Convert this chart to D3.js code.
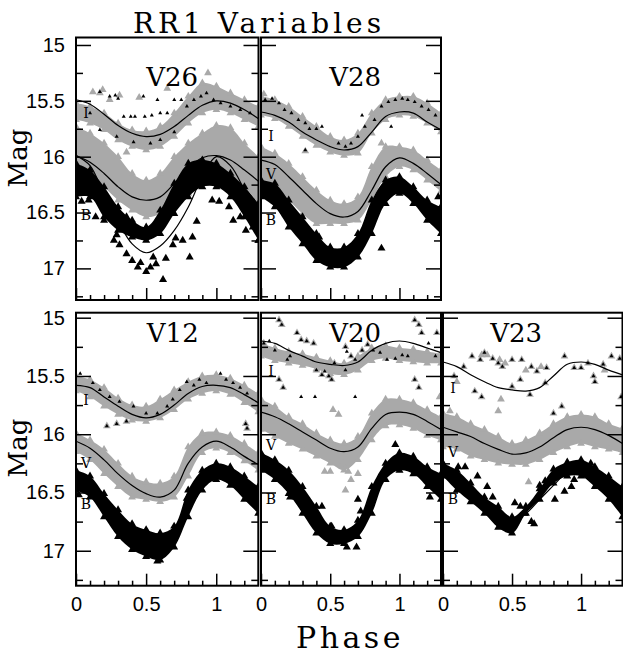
<!DOCTYPE html>
<html>
<head>
<meta charset="utf-8">
<script src="https://cdn.jsdelivr.net/npm/d3@7"></script>
<style>
  body { margin: 0; background: #fff; }
  svg { display: block; }
</style>
</head>
<body>
<script>
// fasi comuni per curve e bande (passo 0.1)
const fasi = [0, 0.1, 0.2, 0.3, 0.4, 0.5, 0.6, 0.7, 0.8, 0.9, 1.0, 1.1, 1.2, 1.3];

// tick degli assi
const tickMagMaggiori = [15, 15.5, 16, 16.5, 17];
const tickMagMinori = [15.25, 15.75, 16.25, 16.75, 17.25];
const tickFaseMaggiori = [0, 0.5, 1];
const tickFaseMinori = [0.1, 0.2, 0.3, 0.4, 0.6, 0.7, 0.8, 0.9, 1.1, 1.2];

// ---------------- V26 ----------------
const v26CurvaI = [15.49, 15.53, 15.62, 15.72, 15.79, 15.82, 15.80, 15.73, 15.63, 15.54, 15.50, 15.52, 15.58, 15.66];
const v26CurvaV = [15.99, 16.05, 16.15, 16.27, 16.36, 16.39, 16.36, 16.24, 16.10, 16.01, 15.99, 16.03, 16.12, 16.22];
const v26CurvaB = [15.99, 16.08, 16.34, 16.58, 16.78, 16.86, 16.80, 16.66, 16.45, 16.18, 16.00, 16.08, 16.30, 16.55];
const v26BandaIsu = [15.52, 15.55, 15.61, 15.70, 15.76, 15.77, 15.73, 15.61, 15.46, 15.34, 15.37, 15.43, 15.49, 15.55];
const v26BandaIgiu = [15.67, 15.70, 15.76, 15.85, 15.91, 15.94, 15.91, 15.82, 15.70, 15.61, 15.58, 15.61, 15.67, 15.73];
const v26BandaVsu = [15.73, 15.79, 15.88, 16.00, 16.15, 16.21, 16.15, 16.00, 15.88, 15.79, 15.72, 15.74, 15.88, 16.00];
const v26BandaVgiu = [16.05, 16.15, 16.27, 16.39, 16.48, 16.54, 16.51, 16.42, 16.33, 16.21, 16.15, 16.18, 16.27, 16.42];
const v26BandaBsu = [16.06, 16.12, 16.27, 16.45, 16.57, 16.63, 16.48, 16.24, 16.06, 16.03, 16.06, 16.15, 16.27, 16.42];
const v26BandaBgiu = [16.36, 16.36, 16.54, 16.66, 16.72, 16.75, 16.69, 16.51, 16.36, 16.27, 16.27, 16.36, 16.54, 16.75];
const v26PuntiGrigi = [[0.12, 15.42], [0.24, 15.49], [0.31, 15.45], [0.65, 15.39], [0.94, 15.25], [0.36, 15.96], [0.0, 15.76], [0.19, 15.40], [0.45, 15.47], [0.17, 15.43]];
const v26PuntiNeri = [[0.04, 16.40], [0.09, 16.39], [0.14, 16.54], [0.20, 16.57], [0.27, 16.75], [0.31, 16.79], [0.36, 16.87], [0.40, 16.93], [0.46, 16.95], [0.50, 17.03], [0.53, 16.99], [0.57, 16.96], [0.62, 17.10], [0.64, 16.91], [0.69, 16.79], [0.71, 16.73], [0.76, 16.75], [0.81, 16.90], [0.83, 16.72], [0.86, 16.58], [0.97, 16.39], [1.02, 16.40], [1.09, 16.45], [1.12, 16.57], [1.17, 16.54], [1.21, 16.66], [1.26, 16.63], [1.30, 16.75], [0.36, 16.54], [0.29, 16.70], [0.44, 16.99], [0.55, 16.90]];
const v26PuntiniI = [[0.10, 15.61], [0.17, 15.42], [0.24, 15.46], [0.28, 15.45], [0.30, 15.48], [0.34, 15.64], [0.39, 15.64], [0.42, 15.64], [0.48, 15.46], [0.49, 15.64], [0.54, 15.63], [0.58, 15.49], [0.60, 15.61], [0.65, 15.61], [0.70, 15.49], [0.75, 15.49], [0.79, 15.55], [0.84, 15.49], [0.89, 15.46], [0.93, 15.43], [0.98, 15.49], [1.03, 15.52], [1.10, 15.55], [1.17, 15.58], [1.24, 15.61], [0.17, 15.76], [0.29, 15.82], [0.41, 15.87], [0.53, 15.88], [0.60, 15.85], [0.70, 15.78]];

// ---------------- V28 ----------------
const v28CurvaI = [15.60, 15.63, 15.69, 15.78, 15.85, 15.91, 15.94, 15.91, 15.78, 15.64, 15.60, 15.61, 15.69, 15.76];
const v28CurvaV = [16.03, 16.07, 16.18, 16.30, 16.42, 16.51, 16.54, 16.49, 16.30, 16.09, 16.01, 16.06, 16.15, 16.25];
const v28CurvaB = [16.27, 16.33, 16.50, 16.66, 16.80, 16.90, 16.92, 16.80, 16.52, 16.30, 16.24, 16.33, 16.48, 16.58];
const v28BandaIsu = [15.46, 15.49, 15.55, 15.64, 15.73, 15.82, 15.85, 15.79, 15.61, 15.49, 15.46, 15.46, 15.52, 15.61];
const v28BandaIgiu = [15.63, 15.66, 15.73, 15.82, 15.90, 15.96, 15.99, 15.97, 15.79, 15.67, 15.63, 15.64, 15.70, 15.78];
const v28BandaVsu = [15.91, 15.97, 16.06, 16.18, 16.30, 16.39, 16.42, 16.36, 16.09, 15.91, 15.91, 15.94, 16.03, 16.12];
const v28BandaVgiu = [16.27, 16.30, 16.39, 16.51, 16.60, 16.60, 16.60, 16.57, 16.39, 16.18, 16.09, 16.12, 16.21, 16.31];
const v28BandaBsu = [16.21, 16.24, 16.39, 16.54, 16.69, 16.81, 16.81, 16.69, 16.39, 16.21, 16.18, 16.27, 16.39, 16.45];
const v28BandaBgiu = [16.36, 16.45, 16.63, 16.78, 16.93, 16.99, 16.99, 16.90, 16.69, 16.42, 16.33, 16.42, 16.57, 16.69];
const v28PuntiGrigi = [[0.32, 15.95], [0.02, 15.44], [0.87, 15.88], [0.95, 15.62]];
const v28PuntiNeri = [[0.87, 16.82], [0.30, 16.62], [1.28, 16.36], [0.42, 16.72]];
const v28PuntiniI = [[0.03, 15.49], [0.08, 15.48], [0.13, 15.52], [0.17, 15.58], [0.22, 15.61], [0.27, 15.67], [0.32, 15.70], [0.35, 15.75], [0.40, 15.75], [0.44, 15.73], [0.56, 15.88], [0.61, 15.91], [0.65, 15.88], [0.70, 15.82], [0.75, 15.73], [0.82, 15.67], [0.87, 15.55], [0.92, 15.51], [0.97, 15.49], [1.02, 15.48], [1.06, 15.49], [1.11, 15.51], [1.16, 15.55], [1.21, 15.58], [1.26, 15.63], [0.32, 15.94], [0.73, 15.63], [0.94, 15.73]];

// ---------------- V12 ----------------
const v12CurvaI = [15.58, 15.60, 15.68, 15.76, 15.83, 15.86, 15.83, 15.75, 15.65, 15.59, 15.58, 15.60, 15.66, 15.73];
const v12CurvaV = [16.06, 16.12, 16.22, 16.34, 16.44, 16.51, 16.54, 16.48, 16.25, 16.11, 16.06, 16.11, 16.19, 16.26];
const v12CurvaB = [16.41, 16.48, 16.62, 16.77, 16.88, 16.94, 16.95, 16.91, 16.62, 16.38, 16.31, 16.32, 16.41, 16.56];
const v12BandaIsu = [15.50, 15.53, 15.60, 15.69, 15.75, 15.76, 15.70, 15.62, 15.55, 15.50, 15.49, 15.52, 15.58, 15.65];
const v12BandaIgiu = [15.63, 15.68, 15.76, 15.83, 15.88, 15.89, 15.86, 15.79, 15.70, 15.65, 15.63, 15.66, 15.73, 15.81];
const v12BandaVsu = [15.99, 16.05, 16.13, 16.25, 16.36, 16.41, 16.42, 16.36, 16.11, 15.99, 15.98, 16.01, 16.08, 16.16];
const v12BandaVgiu = [16.15, 16.22, 16.34, 16.45, 16.54, 16.56, 16.58, 16.54, 16.36, 16.16, 16.12, 16.16, 16.23, 16.31];
const v12BandaBsu = [16.31, 16.36, 16.51, 16.65, 16.77, 16.82, 16.85, 16.79, 16.48, 16.31, 16.25, 16.28, 16.36, 16.45];
const v12BandaBgiu = [16.48, 16.54, 16.71, 16.88, 16.99, 17.05, 17.08, 16.97, 16.71, 16.48, 16.39, 16.44, 16.56, 16.68];
const v12PuntiGrigi = [[0.22, 15.93], [0.29, 15.91], [0.36, 15.89], [1.21, 15.91], [1.22, 15.95], [0.48, 16.47], [0.52, 16.46]];
const v12PuntiNeri = [[0.79, 16.55], [0.02, 16.52], [0.58, 17.09]];
const v12PuntiniI = [[0.03, 15.48], [0.12, 15.56], [0.17, 15.62], [0.22, 15.93], [0.29, 15.91], [0.36, 15.89], [0.24, 15.68], [0.31, 15.72], [0.41, 15.76], [0.50, 15.82], [0.58, 15.82], [0.65, 15.76], [0.69, 15.70], [0.74, 15.62], [0.79, 15.55], [0.84, 15.58], [0.88, 15.53], [0.93, 15.56], [1.03, 15.48], [1.07, 15.53], [1.12, 15.56], [1.17, 15.60], [1.22, 15.65], [1.21, 15.91], [1.22, 15.95]];

// ---------------- V20 ----------------
const v20CurvaI = [15.20, 15.22, 15.28, 15.33, 15.38, 15.40, 15.41, 15.38, 15.28, 15.22, 15.20, 15.22, 15.26, 15.30];
const v20CurvaV = [15.81, 15.85, 15.91, 15.98, 16.05, 16.12, 16.15, 16.11, 15.95, 15.83, 15.81, 15.83, 15.89, 15.96];
const v20CurvaB = [16.18, 16.28, 16.39, 16.54, 16.71, 16.85, 16.88, 16.79, 16.54, 16.28, 16.19, 16.22, 16.31, 16.39];
const v20BandaIsu = [15.22, 15.26, 15.29, 15.31, 15.34, 15.37, 15.39, 15.33, 15.26, 15.24, 15.26, 15.27, 15.29, 15.31];
const v20BandaIgiu = [15.33, 15.37, 15.39, 15.41, 15.44, 15.48, 15.49, 15.45, 15.37, 15.35, 15.37, 15.38, 15.39, 15.39];
const v20BandaVsu = [15.70, 15.76, 15.85, 15.91, 15.99, 16.05, 16.08, 16.02, 15.82, 15.70, 15.70, 15.73, 15.79, 15.85];
const v20BandaVgiu = [15.96, 16.02, 16.08, 16.13, 16.19, 16.25, 16.31, 16.22, 16.05, 15.93, 15.92, 15.95, 16.01, 16.05];
const v20BandaBsu = [16.16, 16.22, 16.31, 16.45, 16.62, 16.79, 16.82, 16.74, 16.45, 16.25, 16.16, 16.19, 16.28, 16.34];
const v20BandaBgiu = [16.31, 16.39, 16.51, 16.68, 16.85, 16.94, 16.94, 16.88, 16.68, 16.39, 16.31, 16.34, 16.45, 16.56];
const v20PuntiGrigi = [[0.46, 16.32], [0.50, 16.32], [0.59, 16.25], [0.63, 16.32], [0.65, 16.39], [0.61, 16.48], [0.70, 16.34], [0.52, 15.79], [0.56, 15.83], [1.29, 15.68], [0.02, 15.22], [0.13, 15.02], [0.15, 15.06], [0.26, 15.13], [0.29, 15.19], [0.33, 15.20], [0.38, 15.22], [0.40, 15.45], [0.44, 15.49], [0.49, 15.50], [0.53, 15.39], [0.61, 15.25], [0.65, 15.33], [0.73, 15.28], [0.77, 15.23], [1.11, 15.02], [1.14, 15.06], [1.16, 15.13], [1.27, 15.13], [0.13, 15.53], [0.16, 15.60], [1.11, 15.53], [1.14, 15.60], [0.61, 15.45], [0.51, 15.53]];
const v20PuntiNeri = [[0.21, 16.54], [0.25, 16.54], [0.70, 16.56], [0.97, 16.09], [1.22, 16.54], [0.62, 16.97], [0.69, 16.97], [0.51, 16.79], [0.44, 16.62], [0.72, 16.66]];
const v20PuntiniI = [[0.02, 15.22], [0.06, 15.20], [0.10, 15.28], [0.13, 15.02], [0.15, 15.06], [0.19, 15.36], [0.21, 15.33], [0.26, 15.13], [0.29, 15.19], [0.33, 15.20], [0.38, 15.22], [0.40, 15.45], [0.44, 15.49], [0.46, 15.46], [0.49, 15.50], [0.53, 15.39], [0.61, 15.25], [0.62, 15.29], [0.65, 15.33], [0.68, 15.36], [0.73, 15.28], [0.77, 15.23], [0.81, 15.28], [0.86, 15.30], [0.91, 15.36], [0.97, 15.35], [1.02, 15.32], [1.06, 15.33], [1.11, 15.02], [1.14, 15.06], [1.16, 15.13], [1.21, 15.22], [1.26, 15.33], [1.27, 15.13], [0.13, 15.53], [0.16, 15.60], [0.29, 15.68], [0.39, 15.68], [0.68, 15.68], [1.11, 15.53], [1.14, 15.60], [0.61, 15.45], [0.51, 15.53]];

// ---------------- V23 ----------------
const v23CurvaI = [15.38, 15.42, 15.49, 15.55, 15.60, 15.62, 15.63, 15.60, 15.50, 15.40, 15.38, 15.40, 15.45, 15.49];
const v23CurvaV = [15.94, 15.98, 16.02, 16.08, 16.13, 16.17, 16.16, 16.11, 16.03, 15.96, 15.94, 15.96, 16.01, 16.08];
const v23CurvaB = [16.29, 16.39, 16.51, 16.62, 16.71, 16.73, 16.68, 16.56, 16.44, 16.32, 16.26, 16.34, 16.44, 16.54];
const v23BandaVsu = [15.82, 15.85, 15.91, 15.96, 16.02, 16.08, 16.05, 15.99, 15.91, 15.85, 15.83, 15.85, 15.91, 15.95];
const v23BandaVgiu = [16.11, 16.13, 16.19, 16.22, 16.25, 16.26, 16.26, 16.22, 16.16, 16.11, 16.08, 16.11, 16.13, 16.16];
const v23BandaBsu = [16.25, 16.31, 16.42, 16.54, 16.62, 16.71, 16.62, 16.47, 16.30, 16.24, 16.22, 16.28, 16.36, 16.45];
const v23BandaBgiu = [16.36, 16.48, 16.58, 16.68, 16.80, 16.85, 16.68, 16.56, 16.42, 16.36, 16.36, 16.45, 16.56, 16.71];
const v23PuntiGrigi = [[0.08, 15.50], [0.10, 15.55], [0.15, 15.42], [0.21, 15.33], [0.27, 15.36], [0.28, 15.32], [0.30, 15.30], [0.32, 15.32], [0.36, 15.35], [0.40, 15.39], [0.41, 15.36], [0.43, 15.42], [0.45, 15.39], [0.50, 15.36], [0.50, 15.59], [0.57, 15.36], [0.56, 15.53], [0.63, 15.66], [0.60, 15.45], [0.64, 15.42], [0.68, 15.46], [0.71, 15.42], [0.75, 15.43], [0.74, 15.56], [0.80, 15.82], [0.86, 15.76], [0.88, 15.33], [0.95, 15.43], [1.00, 15.43], [1.05, 15.39], [1.09, 15.50], [1.10, 15.55], [1.16, 15.40], [1.17, 15.45], [1.22, 15.33], [1.28, 15.35], [1.29, 15.68], [0.23, 15.63], [0.28, 15.68], [0.42, 15.70], [0.62, 16.41], [0.05, 15.80], [0.40, 15.80]];
const v23PuntiNeri = [[0.11, 16.28], [0.16, 16.28], [0.25, 16.36], [0.32, 16.45], [0.36, 16.54], [0.52, 16.59], [0.56, 16.62], [0.59, 16.68], [0.64, 16.75], [0.66, 16.77], [0.81, 16.56], [0.88, 16.49], [0.93, 16.45], [0.95, 16.39], [1.07, 16.25], [0.70, 16.44], [0.74, 16.40]];
const v23PuntiniI = [[0.08, 15.50], [0.15, 15.42], [0.21, 15.33], [0.27, 15.36], [0.30, 15.30], [0.36, 15.35], [0.40, 15.39], [0.43, 15.42], [0.50, 15.36], [0.50, 15.59], [0.57, 15.36], [0.56, 15.53], [0.63, 15.66], [0.64, 15.42], [0.68, 15.46], [0.75, 15.43], [0.74, 15.56], [0.80, 15.82], [0.86, 15.76], [0.88, 15.33], [0.95, 15.43], [1.00, 15.43], [1.05, 15.39], [1.09, 15.50], [1.10, 15.55], [1.16, 15.40], [1.22, 15.33], [1.28, 15.35], [1.29, 15.68], [0.23, 15.63], [0.28, 15.68]];

// tabella dei pannelli costruita dagli array sopra
const pannelli = [
  { nome: "V26", sx: 76, dx: 258.5, su: 37.5, giu: 300, dominio: [14.933, 17.283], faseNome: 0.685, magNome: 15.37,
    etichette: [["I", 15.61], ["V", 16.16], ["B", 16.52]],
    curve: [v26CurvaI, v26CurvaV, v26CurvaB],
    grigie: [[v26BandaIsu, v26BandaIgiu], [v26BandaVsu, v26BandaVgiu]], nere: [[v26BandaBsu, v26BandaBgiu]],
    puntiGrigi: v26PuntiGrigi, puntiNeri: v26PuntiNeri, puntini: v26PuntiniI, numeriY: true, numeriX: false },
  { nome: "V28", sx: 261, dx: 441, su: 37.5, giu: 300, dominio: [14.933, 17.283], faseNome: 0.68, magNome: 15.37,
    etichette: [["I", 15.82], ["V", 16.16], ["B", 16.57]],
    curve: [v28CurvaI, v28CurvaV, v28CurvaB],
    grigie: [[v28BandaIsu, v28BandaIgiu], [v28BandaVsu, v28BandaVgiu]], nere: [[v28BandaBsu, v28BandaBgiu]],
    puntiGrigi: v28PuntiGrigi, puntiNeri: v28PuntiNeri, puntini: v28PuntiniI, numeriY: false, numeriX: false },
  { nome: "V12", sx: 76, dx: 258.3, su: 312.7, giu: 585.7, dominio: [14.957, 17.30], faseNome: 0.69, magNome: 15.21,
    etichette: [["I", 15.71], ["V", 16.25], ["B", 16.60]],
    curve: [v12CurvaI, v12CurvaV, v12CurvaB],
    grigie: [[v12BandaIsu, v12BandaIgiu], [v12BandaVsu, v12BandaVgiu]], nere: [[v12BandaBsu, v12BandaBgiu]],
    puntiGrigi: v12PuntiGrigi, puntiNeri: v12PuntiNeri, puntini: v12PuntiniI, numeriY: true, numeriX: true },
  { nome: "V20", sx: 261, dx: 441, su: 312.7, giu: 585.7, dominio: [14.957, 17.30], faseNome: 0.68, magNome: 15.21,
    etichette: [["I", 15.46], ["V", 16.09], ["B", 16.56]],
    curve: [v20CurvaI, v20CurvaV, v20CurvaB],
    grigie: [[v20BandaIsu, v20BandaIgiu], [v20BandaVsu, v20BandaVgiu]], nere: [[v20BandaBsu, v20BandaBgiu]],
    puntiGrigi: v20PuntiGrigi, puntiNeri: v20PuntiNeri, puntini: v20PuntiniI, numeriY: false, numeriX: true },
  { nome: "V23", sx: 443, dx: 622.5, su: 312.7, giu: 585.7, dominio: [14.957, 17.30], faseNome: 0.53, magNome: 15.21,
    etichette: [["I", 15.60], ["V", 16.15], ["B", 16.56]],
    curve: [v23CurvaI, v23CurvaV, v23CurvaB],
    grigie: [[v23BandaVsu, v23BandaVgiu]], nere: [[v23BandaBsu, v23BandaBgiu]],
    puntiGrigi: v23PuntiGrigi, puntiNeri: v23PuntiNeri, puntini: v23PuntiniI, numeriY: false, numeriX: true }
];

const grigio = "#a9a9a9";
const serif = "'DejaVu Serif', serif";
const sans = "'Liberation Sans', Arial, sans-serif";

const svg = d3.select("body")
  .append("svg")
  .attr("width", 623)
  .attr("height", 655);

const triangolo = function (area) { return d3.symbol().type(d3.symbolTriangle).size(area)(); };

pannelli.forEach(function (pan, i) {
  const scalaFase = d3.scaleLinear().domain([0, 1.3]).range([pan.sx, pan.dx]);
  const scalaMag = d3.scaleLinear().domain(pan.dominio).range([pan.su, pan.giu]);

  svg.append("clipPath").attr("id", "clip" + i)
    .append("rect")
    .attr("x", pan.sx).attr("y", pan.su)
    .attr("width", pan.dx - pan.sx).attr("height", pan.giu - pan.su);

  const g = svg.append("g").attr("clip-path", `url(#clip${i})`);

  // bande di punti: area fra inviluppo alto e basso + triangoli sui bordi
  let disegnaBanda = function (banda, colore, dim) {
    const righe = fasi.map(function (f, j) { return { f: f, su: banda[0][j], giu: banda[1][j] }; });
    const area = d3.area()
      .x(function (d) { return scalaFase(d.f) })
      .y0(function (d) { return scalaMag(d.su) })
      .y1(function (d) { return scalaMag(d.giu) })
      .curve(d3.curveCatmullRom);
    g.append("path").datum(righe).attr("d", area).attr("fill", colore);
    const bordi = righe.map(d => [d.f, d.su]).concat(righe.map(d => [d.f, d.giu]));
    disegnaPunti(bordi, colore, dim);
  };

  let disegnaPunti = function (punti, colore, dim) {
    g.append("g").selectAll("path")
      .data(punti)
      .enter()
      .append("path")
      .attr("d", triangolo(dim))
      .attr("transform", d => `translate(${scalaFase(d[0])},${scalaMag(d[1])})`)
      .attr("fill", colore);
  };

  pan.grigie.forEach(b => disegnaBanda(b, grigio, 26));
  disegnaPunti(pan.puntiGrigi, grigio, 26);

  // etichette delle bande
  pan.etichette.forEach(function (e) {
    svg.append("text")
      .attr("x", pan.sx + 10)
      .attr("y", scalaMag(e[1]))
      .attr("dy", "0.35em")
      .attr("text-anchor", "middle")
      .attr("font-family", serif)
      .attr("font-size", 14)
      .text(e[0]);
  });

  // curve di fit
  const linea = d3.line()
    .x(function (d, j) { return scalaFase(fasi[j]) })
    .y(function (d) { return scalaMag(d) })
    .curve(d3.curveCatmullRom);
  pan.curve.forEach(function (c) {
    g.append("path").datum(c).attr("d", linea)
      .attr("fill", "none").attr("stroke", "#000").attr("stroke-width", 1.2);
  });

  pan.nere.forEach(b => disegnaBanda(b, "#000", 28));
  disegnaPunti(pan.puntiNeri, "#000", 28);
  disegnaPunti(pan.puntini, "#000", 7);

  // nome della variabile
  svg.append("text")
    .attr("x", scalaFase(pan.faseNome))
    .attr("y", scalaMag(pan.magNome))
    .attr("text-anchor", "middle")
    .attr("font-family", serif)
    .attr("font-size", 26)
    .text(pan.nome);

  // assi: tick interni su tutti i lati tranne quello alto
  const stileAsse = function (sel) {
    sel.select(".domain").remove();
    sel.selectAll("line").attr("stroke", "#000").attr("stroke-width", 1.5);
    sel.selectAll("text").attr("font-family", sans).attr("font-size", 20).attr("fill", "#000");
  };

  svg.append("g").attr("transform", `translate(${pan.sx},0)`)
    .call(d3.axisLeft(scalaMag).tickValues(tickMagMaggiori).tickSizeInner(-15).tickSizeOuter(0).tickPadding(11)
      .tickFormat(pan.numeriY ? d3.format("") : ""))
    .call(stileAsse);
  svg.append("g").attr("transform", `translate(${pan.sx},0)`)
    .call(d3.axisLeft(scalaMag).tickValues(tickMagMinori).tickSizeInner(-7).tickSizeOuter(0).tickFormat(""))
    .call(stileAsse);
  svg.append("g").attr("transform", `translate(${pan.dx},0)`)
    .call(d3.axisRight(scalaMag).tickValues(tickMagMaggiori).tickSizeInner(-15).tickSizeOuter(0).tickFormat(""))
    .call(stileAsse);
  svg.append("g").attr("transform", `translate(${pan.dx},0)`)
    .call(d3.axisRight(scalaMag).tickValues(tickMagMinori).tickSizeInner(-7).tickSizeOuter(0).tickFormat(""))
    .call(stileAsse);
  svg.append("g").attr("transform", `translate(0,${pan.giu})`)
    .call(d3.axisBottom(scalaFase).tickValues(tickFaseMaggiori).tickSizeInner(-12).tickSizeOuter(0).tickPadding(11)
      .tickFormat(pan.numeriX ? d3.format("") : ""))
    .call(stileAsse);
  svg.append("g").attr("transform", `translate(0,${pan.giu})`)
    .call(d3.axisBottom(scalaFase).tickValues(tickFaseMinori).tickSizeInner(-5).tickSizeOuter(0).tickFormat(""))
    .call(stileAsse);

  // cornice
  svg.append("rect")
    .attr("x", pan.sx).attr("y", pan.su)
    .attr("width", pan.dx - pan.sx).attr("height", pan.giu - pan.su)
    .attr("fill", "none").attr("stroke", "#000").attr("stroke-width", 2);
});

// titoli
svg.append("text")
  .attr("x", 259).attr("y", 33)
  .attr("text-anchor", "middle")
  .attr("font-family", serif).attr("font-size", 28).attr("letter-spacing", 4)
  .text("RR1 Variables");

svg.append("text")
  .attr("x", 350).attr("y", 648)
  .attr("text-anchor", "middle")
  .attr("font-family", serif).attr("font-size", 30).attr("letter-spacing", 3.5)
  .text("Phase");

[158, 448].forEach(function (cy) {
  svg.append("text")
    .attr("transform", `translate(27,${cy}) rotate(-90)`)
    .attr("text-anchor", "middle")
    .attr("font-family", serif).attr("font-size", 26)
    .text("Mag");
});
</script>
</body>
</html>
